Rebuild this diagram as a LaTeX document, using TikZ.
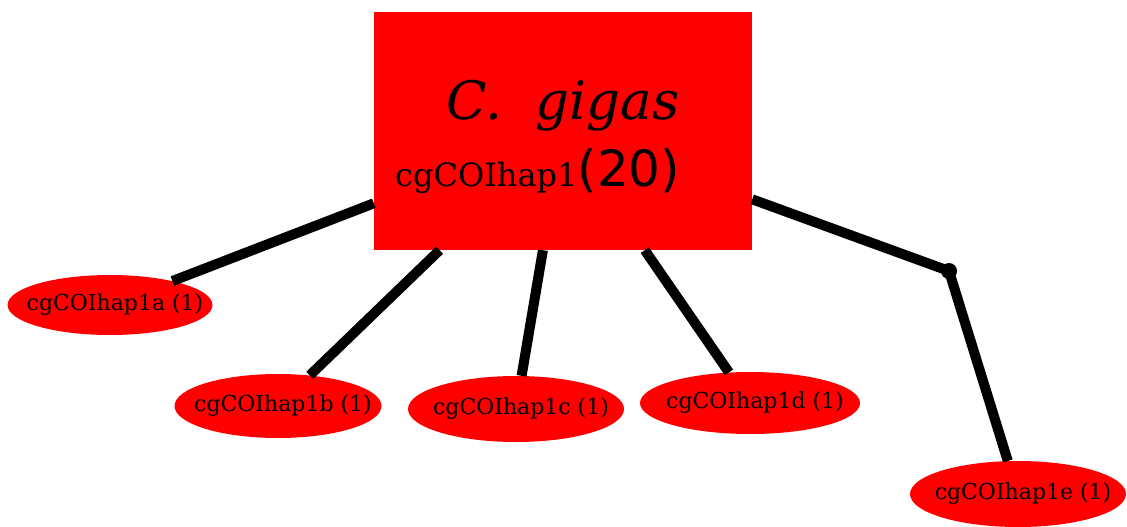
\documentclass[tikz,border=0pt]{standalone}
\usepackage{fontspec}
\setmainfont{DejaVu Serif}
\newfontfamily\sansnum{DejaVu Sans}
\usetikzlibrary{shapes.geometric}
\newcommand{\hl}[1]{\makebox[0pt]{\hspace*{10pt}\raisebox{-4pt}{#1}}}
\begin{document}
\begin{tikzpicture}[x=1pt,y=-1pt,
  hapbox/.style={draw=none,fill=red,rectangle,minimum width=378pt,minimum height=238pt,inner sep=0pt},
  hapell/.style={draw=none,fill=red,ellipse,inner sep=0pt,font=\fontsize{22}{24}\selectfont},
  link/.style={line width=10pt,black},
  txt/.style={inner sep=0pt,anchor=base}]
\useasboundingbox (0,0) rectangle (1127,527);
\node[hapbox] (main) at (563,131) {};
\node[hapell,minimum width=205pt,minimum height=60pt] (a) at (110,305) {\hl{cgCOIhap1a\ (1)}};
\node[hapell,minimum width=207pt,minimum height=64pt] (b) at (278,406) {\hl{cgCOIhap1b\ (1)}};
\node[hapell,minimum width=216pt,minimum height=66pt] (c) at (516,409) {\hl{cgCOIhap1c\ (1)}};
\node[hapell,minimum width=220pt,minimum height=62pt] (d) at (750,403) {\hl{cgCOIhap1d\ (1)}};
\node[hapell,minimum width=216pt,minimum height=66pt] (e) at (1018,494) {\hl{cgCOIhap1e\ (1)}};
\coordinate (j) at (949,271);
\draw[link] (main) -- (a);
\draw[link] (main) -- (b);
\draw[link] (main) -- (c);
\draw[link] (main) -- (d);
\draw[link] (main) -- (j);
\draw[link] (j) -- (e);
\fill (j) circle (8pt);
\node[txt,font=\fontsize{53}{60}\selectfont\itshape] (sp) at (563,119) {C.\ \ gigas};
\node[txt,anchor=base west] (hap) at (395,186) {\fontsize{32}{36}\selectfont cgCOIhap1\sansnum\fontsize{50}{54}\selectfont(20)};
\end{tikzpicture}
\end{document}
